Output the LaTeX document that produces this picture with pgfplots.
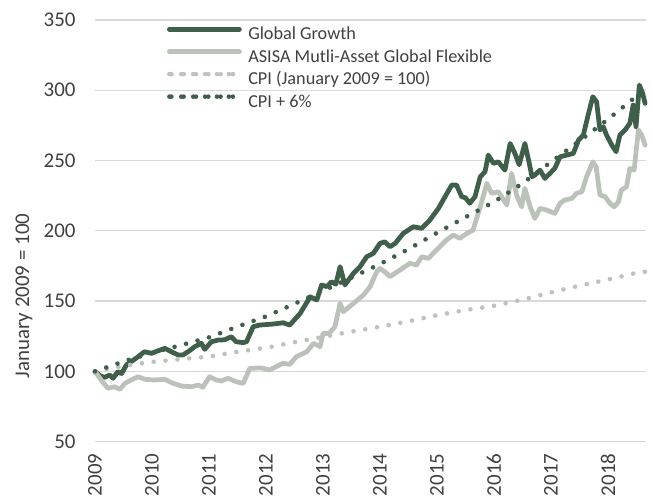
\documentclass[border=0pt]{standalone}
\usepackage{fontspec}
\setmainfont{Carlito}
\usepackage{pgfplots}
\pgfplotsset{compat=1.18}
\definecolor{gg}{HTML}{3F5F4A}
\definecolor{asisa}{HTML}{BBC2B9}
\definecolor{cpi}{HTML}{BDC3BC}
\definecolor{txt}{HTML}{404040}
\definecolor{gridc}{HTML}{D9D9D9}
\begin{document}
\begin{tikzpicture}
\path[use as bounding box] (-95bp,-56.3bp) rectangle (558bp,441.7bp);
\begin{axis}[
  at={(0,0)}, anchor=south west,
  scale only axis, width=551bp, height=421.7bp,
  xmin=0, xmax=116, ymin=50, ymax=350,
  clip=false,
  ytick={50,100,...,350},
  xtick={0,12,...,108},
  xticklabels={2009,2010,2011,2012,2013,2014,2015,2016,2017,2018},
  ymajorgrids, grid style={gridc, line width=1.3bp},
  axis line style={draw=none},
  major tick length=0pt,
  tick label style={font=\fontsize{21}{25}\selectfont, text=txt},
  /pgf/number format/assume math mode=true,
  xticklabel style={yshift=-8.5bp, rotate=90, anchor=east},
  yticklabel style={xshift=-16bp},
  ylabel={January 2009 = 100},
  ylabel style={at={(axis description cs:-0.1289,0.3455)}, anchor=center, font=\fontsize{21}{25}\selectfont, text=txt},
  legend style={
    at={(axis description cs:0.1307,0.9845)}, anchor=north west,
    draw=none, fill=none, inner sep=0pt, outer sep=0pt,
    font=\fontsize{18.3}{22}\selectfont, text=txt,
    row sep=5.5bp, column sep=6.5bp,
    nodes={inner sep=0pt, text height=13bp, text depth=4bp},
  },
  legend cell align=left,
  legend image code/.code={\draw[#1] (0bp,5.9bp) -- (70bp,5.9bp);},
]
\addplot[gg, line width=4.75bp, line join=round, line cap=round] coordinates {
(0,100) (1,97) (2,95.8) (3.1,97.4) (3.8,95.1) (4.8,99.8) (5.6,98.5) (6.6,104.6) (7.6,106.9) (9.1,110.5) (10.4,114) (11.9,112.9) (13.3,114.7) (14.7,116.4) (16.1,114) (17.5,111.7) (18.5,111.7) (19.6,114) (21,117.6) (22.4,120) (23.1,115.7) (24.5,121.1) (25.9,122.3) (27.3,122.5) (28.7,124.7) (29.7,121.1) (31.2,120.5) (31.9,121.1) (33.3,131.8) (34.7,133) (37.5,133.7) (39.6,134.6) (41,133) (43.2,141.3) (45.3,153.1) (46.7,150.8) (47.7,161.5) (48.8,160.3) (49.8,163.8) (50.7,162) (51.6,174.5) (52.6,161.5) (54.4,169.8) (55.8,174.5) (57.2,181.6) (58.6,184) (60,191.1) (61,192.2) (62.1,188.7) (63.2,191.1) (64.9,198.2) (67,202.9) (68.8,201.8) (70.5,207.7) (72.3,216) (73.7,224.3) (75.1,232.6) (76.1,232.6) (77.2,224.3) (78,223.5) (78.9,219.6) (80,224.3) (81.1,238.5) (82.1,242) (82.8,253.9) (83.9,248) (84.9,249.1) (86.3,243.2) (87.4,262.2) (88.4,255.1) (89.3,247) (90.5,262.2) (91.3,250) (92,238.5) (92.6,239.7) (93.7,243.2) (94.7,237.3) (95.8,240.9) (96.8,244.4) (97.9,252.7) (99.3,253.9) (100.7,255.1) (101.8,264.6) (102.8,268.1) (103.9,283.5) (104.8,295.4) (105.6,291.8) (106.3,271.8) (107,274.1) (107.7,268.1) (108.8,261) (109.7,256.3) (110.5,268.1) (111.6,271.8) (112.6,276.5) (113.3,289.5) (113.9,274.1) (114.6,303.7) (115.3,297.8) (115.8,290.7)
};
\addlegendentry{Global Growth}
\addplot[asisa, line width=4.75bp, line join=round, line cap=round] coordinates {
(0,100) (1.3,93.9) (2.7,88) (4.1,89.1) (5.2,87.2) (6.3,91.5) (7.6,93.9) (9.1,96.2) (10.5,94.4) (12.5,93.9) (14.7,94.4) (16.1,92) (18.2,89.6) (20.3,89.1) (21.7,90.3) (22.7,88.7) (24.1,96.2) (25.5,93.9) (26.6,93.2) (28,95.1) (29.7,92.7) (31.2,91.5) (32.6,102.2) (35,102.5) (36.8,101) (38.2,103.5) (39.6,105.8) (41,105) (42.4,110.5) (44.6,114) (46,120) (47.4,117.6) (48,127.1) (49.3,127) (50.5,131.8) (51.6,148.4) (52.3,142.5) (54.4,148.4) (56.5,154.3) (57.9,160.2) (59.3,170.9) (60,173.3) (61.4,169.8) (62.1,167.4) (64.2,172.1) (66.3,176.9) (67.7,175.7) (68.8,181.6) (70.2,180.4) (71.2,184) (72.6,188.7) (74,193.5) (75.4,197) (76.8,194.7) (78.3,198.2) (79.6,200.6) (81.1,217.1) (82.5,233.8) (83.5,226.7) (84.9,227.8) (86.7,218.4) (87.7,240.9) (88.8,225) (89.8,217.1) (90.5,230.2) (91.6,217.1) (92.6,208.9) (93.7,216) (95.1,214.8) (96.8,212.4) (97.9,219.6) (98.9,221.9) (100.4,223.1) (101.4,226.7) (102.5,227.8) (103.5,238.5) (104.8,249.1) (105.5,245.6) (106.3,225.5) (107.4,224.3) (108.4,219.6) (109.3,217.1) (110.2,220.7) (110.8,229) (111.9,231.4) (112.6,244.4) (113.5,243.2) (114.4,271.8) (115.1,268.1) (115.8,261)
};
\addlegendentry{ASISA Mutli-Asset Global Flexible}
\addplot[cpi, line width=4.6bp, line cap=round, dash pattern=on 0bp off 11.9bp,
  legend image code/.code={\path (0bp,5.9bp) -- (70bp,5.9bp); \draw[cpi, line width=4.6bp, line cap=round, dash pattern=on 0bp off 12.3bp] (2bp,5.9bp) -- (64bp,5.9bp);}] coordinates {
(0,100) (6,104) (12,106.8) (18,108.7) (24,110.5) (30,114) (36,116.8) (42,120.8) (48,124.6) (54,128.3) (60,131.8) (66,135.7) (72,140) (78,143.6) (84,146.7) (90,151) (96,156.2) (102,161) (108,165.4) (114,170.1) (116,171)
};
\addlegendentry{CPI (January 2009 = 100)}
\addplot[gg, line width=4.6bp, line cap=round, dash pattern=on 0bp off 11.9bp,
  legend image code/.code={\path (0bp,5.9bp) -- (70bp,5.9bp); \draw[gg, line width=4.6bp, line cap=round, dash pattern=on 0bp off 12.3bp] (2bp,5.9bp) -- (64bp,5.9bp);}] coordinates {
(0,100) (6,107.1) (12,113.2) (18,118.6) (24,124.2) (30,131.9) (36,139.1) (42,148.1) (48,157.3) (54,166.8) (60,176.4) (66,187) (72,198.6) (78,209.7) (84,220.6) (90,233.8) (96,249) (102,264) (108,279.4) (114,295.8) (116,300.4)
};
\addlegendentry{CPI + 6\%}
\end{axis}
\end{tikzpicture}
\end{document}
